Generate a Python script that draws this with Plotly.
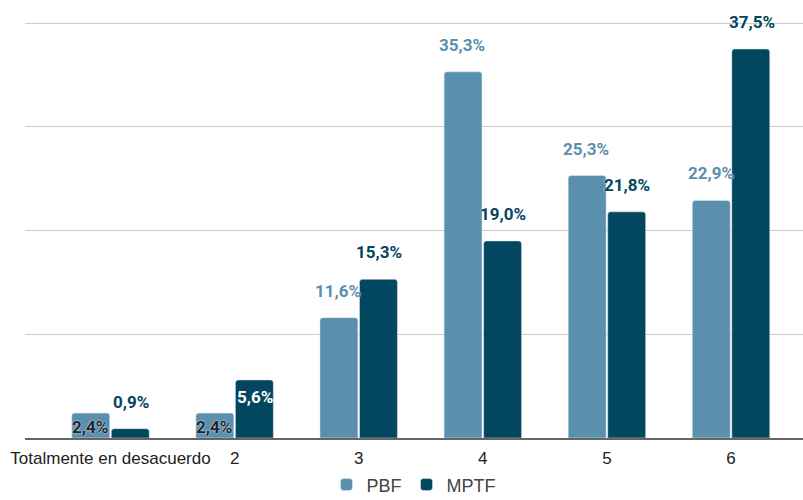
import plotly.graph_objects as go

categories = ["Totalmente en desacuerdo", "2", "3", "4", "5", "6"]
pbf = [2.4, 2.4, 11.6, 35.3, 25.3, 22.9]
mptf = [0.9, 5.6, 15.3, 19.0, 21.8, 37.5]
pbf_labels = ["2,4%", "2,4%", "11,6%", "35,3%", "25,3%", "22,9%"]
mptf_labels = ["0,9%", "5,6%", "15,3%", "19,0%", "21,8%", "37,5%"]

# label placement style (how Sheets rendered them)
pbf_place = ["inside", "inside", "above", "above", "above", "above"]
mptf_place = ["above", "inside_top", "above", "above", "above", "above"]

C_PBF = "#5b8fae"
C_MPTF = "#03465f"

fig = go.Figure()
fig.add_trace(go.Bar(name="PBF", x=categories, y=pbf, marker_color=C_PBF,
                     offsetgroup="a"))
fig.add_trace(go.Bar(name="MPTF", x=categories, y=mptf, marker_color=C_MPTF,
                     offsetgroup="b"))

annotations = []
font_fam = "Roboto"
def add_labels(vals, labels, places, color, xoff):
    for i, (v, t, p) in enumerate(zip(vals, labels, places)):
        if p == "above":
            col, ys, sh = color, 27, "0px 0px 2px white"
        elif p == "inside":
            col, ys, sh = "#1b2630", -14, "0px 0px 2px white"
        else:
            col, ys, sh = "white", -17, "none"
        annotations.append(dict(
            x=i + xoff, y=v, xref="x", yref="y", text="<b>%s</b>" % t,
            showarrow=False, yanchor="middle", xanchor="center", yshift=ys,
            font=dict(family=font_fam, size=17, color=col, shadow=sh)))

add_labels(pbf, pbf_labels, pbf_place, C_PBF, -0.165)
add_labels(mptf, mptf_labels, mptf_place, C_MPTF, 0.165)

fig.update_layout(
    width=803, height=500,
    margin=dict(l=25, r=0, t=21, b=62, autoexpand=False),
    plot_bgcolor="white", paper_bgcolor="white",
    barmode="group", bargap=0.363, bargroupgap=0.04,
    barcornerradius=3,
    annotations=annotations,
    showlegend=True,
    legend=dict(orientation="h", x=0.5, xanchor="center", y=-0.068, yanchor="top",
                font=dict(family="Liberation Sans", size=18, color="#444444"),
                itemwidth=30, traceorder="normal"),
    xaxis=dict(type="category", range=[-0.689, 5.58], showgrid=False,
               showline=True, linecolor="#666666", linewidth=1.5,
               ticks="", ticklabelstandoff=4,
               tickfont=dict(family="Liberation Sans", size=17, color="#222222")),
    yaxis=dict(range=[0, 40.2], tickvals=[10, 20, 30, 40], showgrid=True,
               gridcolor="#cccccc", gridwidth=1.3,
               showticklabels=False, zeroline=False, ticks=""),
)

fig.write_html("out.html")
